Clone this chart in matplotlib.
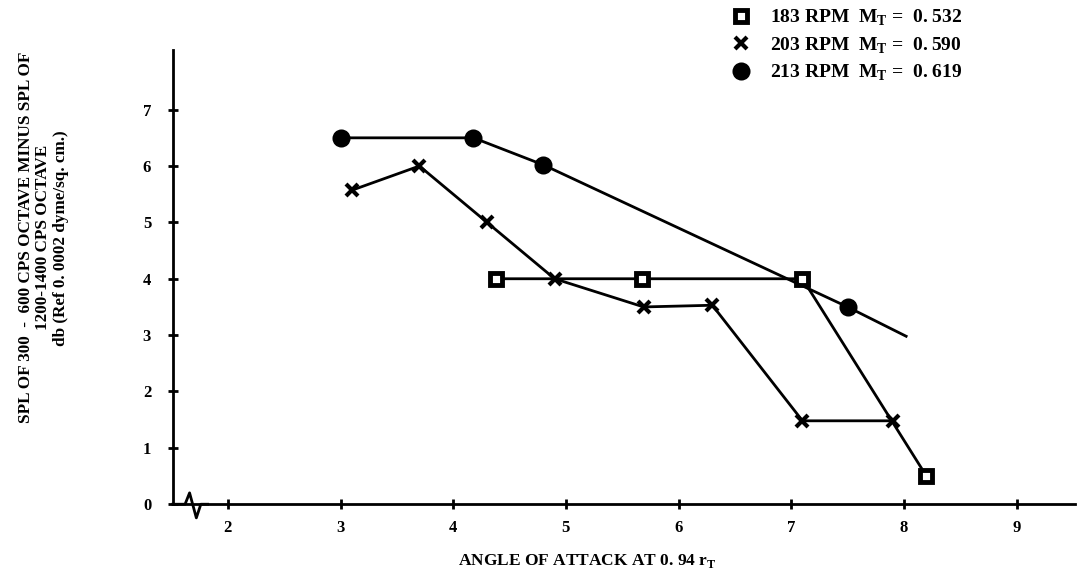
import matplotlib
matplotlib.use("Agg")
import matplotlib.pyplot as plt
import matplotlib.transforms as mtransforms
from matplotlib.lines import Line2D

plt.rcParams['font.family'] = ['Liberation Serif', 'DejaVu Serif']
plt.rcParams['font.weight'] = 'bold'
plt.rcParams['mathtext.fontset'] = 'custom'
plt.rcParams['mathtext.rm'] = 'Liberation Serif:bold'

# data
x_183 = [4.38, 5.68, 7.1, 8.2]
y_183 = [4.0, 4.0, 4.0, 0.5]

x_203 = [3.1, 3.7, 4.3, 4.9, 5.69, 6.3, 7.1, 7.9]
y_203 = [5.57, 6.0, 5.0, 4.0, 3.5, 3.53, 1.48, 1.48]

x_213 = [3.0, 4.18, 4.8, 7.5, 8.02]
y_213 = [6.5, 6.5, 6.02, 3.5, 2.98]

xticks = [2, 3, 4, 5, 6, 7, 8, 9]
yticks = [0, 1, 2, 3, 4, 5, 6, 7]

labels = ['183 RPM  M$_\\mathregular{T}$ =  0. 532',
          '203 RPM  M$_\\mathregular{T}$ =  0. 590',
          '213 RPM  M$_\\mathregular{T}$ =  0. 619']

fig = plt.figure(figsize=(10.86, 5.87), dpi=100)
ax = fig.add_axes([0.159, 0.141, 0.831, 0.774])

sq = dict(marker='s', ms=9, mfc='white', mec='black', mew=3.5)
xx = dict(marker='x', ms=9, mew=3, color='black')
oo = dict(marker='o', ms=10, mfc='black', mec='black', mew=3)

ax.plot(x_183, y_183, color='black', lw=2, **sq)
ax.plot(x_203, y_203, lw=2, **xx)
ax.plot(x_213, y_213, color='black', lw=2, markevery=[0, 1, 2, 3], **oo)

ax.set_xlim(1.51, 9.52)
ax.set_ylim(0, 8.06)
ax.set_xticks(xticks)
ax.set_yticks(yticks)
for s in ['top', 'right']:
    ax.spines[s].set_visible(False)
for s in ['left', 'bottom']:
    ax.spines[s].set_linewidth(2)
ax.tick_params(direction='inout', length=7, width=2, labelsize=12)
ax.tick_params(axis='x', pad=8)
ax.tick_params(axis='y', pad=12)
for lab in ax.get_xticklabels() + ax.get_yticklabels():
    lab.set_fontweight('bold')

# axis break on the x axis
trans = mtransforms.blended_transform_factory(ax.transData, ax.transAxes)
ax.plot([1.51, 1.62, 1.66, 1.72, 1.76, 1.82], [0, 0, 0.025, -0.03, 0, 0],
        color='black', lw=2, transform=trans, clip_on=False)

ax.set_xlabel('ANGLE OF ATTACK AT 0. 94 r$_\\mathregular{T}$', fontsize=12.5,
              fontweight='bold')
ax.xaxis.set_label_coords(0.459, -0.105)
fig.text(0.04, 0.595, 'SPL OF 300  -  600 CPS OCTAVE MINUS SPL OF\n1200-1400 CPS OCTAVE\n'
         'db (Ref 0. 0002 dyme/sq. cm.)', rotation=90, ha='center', va='center',
         fontsize=12.3, fontweight='bold', linespacing=1.12, multialignment='center')

handles = [Line2D([], [], ls='none', **sq),
           Line2D([], [], ls='none', **xx),
           Line2D([], [], ls='none', **oo)]
fig.legend(handles, labels, loc='upper left', bbox_to_anchor=(0.657, 1.017),
           frameon=False, handlelength=1.0, handletextpad=1.0,
           labelspacing=0.38, prop={'weight': 'bold', 'size': 14})

fig.savefig('out.png', dpi=100)
